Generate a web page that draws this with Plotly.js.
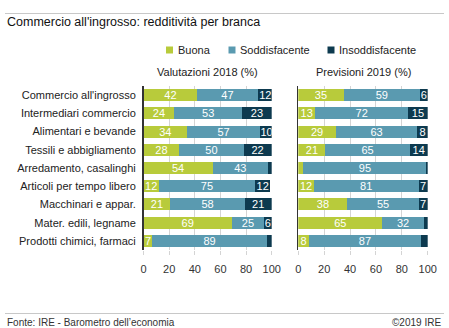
<!DOCTYPE html>
<html>
<head>
<meta charset="utf-8">
<script src="https://cdn.plot.ly/plotly-3.0.1.min.js"></script>
<style>html,body{margin:0;padding:0;background:#fff;}#chart{width:449px;height:328px;}</style>
</head>
<body>
<div id="chart"></div>
<script>
const categories = ["Commercio all'ingrosso","Intermediari commercio","Alimentari e bevande","Tessili e abbigliamento","Arredamento, casalinghi","Articoli per tempo libero","Macchinari e appar.","Mater. edili, legname","Prodotti chimici, farmaci"];
const seriesNames = ["Buona","Soddisfacente","Insoddisfacente"];
const buona2018 = [42,24,34,28,54,12,21,69,7];
const sodd2018 = [47,53,57,50,43,75,58,25,89];
const insodd2018 = [12,23,10,22,3,12,21,6,4];
const buona2019 = [35,13,29,21,4,12,38,65,8];
const sodd2019 = [59,72,63,65,95,81,55,32,87];
const insodd2019 = [6,15,8,14,1,7,7,3,5];
const xTicks = [0,20,40,60,80,100];
const panelTitles = ["Valutazioni 2018 (%)","Previsioni 2019 (%)"];
const chartTitle = "Commercio all'ingrosso: redditività per branca";
const sourceText = "Fonte: IRE - Barometro dell’economia";
const copyText = "©2019 IRE";

const colors = ["#b8cb3b","#5a9ab0","#0d3a4f"];
const W = 449, H = 328;
const px = x => x / W;
const py = y => 1 - y / H;
const FONT = "Liberation Sans, Arial, sans-serif";

function lbl(arr){ return arr.map(v => v >= 6 ? String(v) : ""); }

const data2018 = [buona2018, sodd2018, insodd2018];
const data2019 = [buona2019, sodd2019, insodd2019];
const traces = [];
[data2018, data2019].forEach((set, p) => {
  set.forEach((vals, i) => {
    traces.push({
      type: 'bar', orientation: 'h',
      x: vals, y: categories,
      name: seriesNames[i],
      xaxis: p === 0 ? 'x' : 'x2',
      yaxis: p === 0 ? 'y' : 'y2',
      marker: {color: colors[i], line: {width: 0}},
      text: lbl(vals),
      textposition: 'inside',
      insidetextanchor: 'middle',
      textangle: 0,
      constraintext: 'none',
      textfont: {color: '#ffffff', size: 11, family: FONT},
      hoverinfo: 'skip',
      showlegend: false
    });
  });
});

const xCommon = {
  range: [0, 100], tickvals: xTicks, ticktext: xTicks.map(String),
  showgrid: true, gridcolor: '#d4d4d4', gridwidth: 1,
  zeroline: false, showline: false,
  ticks: 'outside', ticklen: 4, tickcolor: '#d4d4d4',
  ticklabelstandoff: 5,
  tickfont: {size: 11, color: '#333', family: FONT},
  automargin: false, fixedrange: true
};
const yCommon = {
  type: 'category', categoryarray: categories, autorange: 'reversed',
  showgrid: false, zeroline: false,
  showline: true, linecolor: '#333', linewidth: 1.5,
  ticks: '', automargin: false, fixedrange: true,
  domain: [py(250), py(86)]
};

const annotations = [
  {text: chartTitle, x: px(5), y: py(22), xref: 'paper', yref: 'paper', xanchor: 'left', yanchor: 'middle', showarrow: false, font: {size: 12.5, color: '#111', family: FONT}},
  {text: panelTitles[0], x: px(207.6), y: py(72), xref: 'paper', yref: 'paper', xanchor: 'center', yanchor: 'middle', showarrow: false, font: {size: 11, color: '#222', family: FONT}},
  {text: panelTitles[1], x: px(363), y: py(72), xref: 'paper', yref: 'paper', xanchor: 'center', yanchor: 'middle', showarrow: false, font: {size: 11, color: '#222', family: FONT}},
  {text: sourceText, x: px(5), y: py(322), xref: 'paper', yref: 'paper', xanchor: 'left', yanchor: 'middle', showarrow: false, font: {size: 10, color: '#333', family: FONT}},
  {text: copyText, x: px(443), y: py(322), xref: 'paper', yref: 'paper', xanchor: 'right', yanchor: 'middle', showarrow: false, font: {size: 10, color: '#333', family: FONT}}
];
const shapes = [
  {type: 'line', xref: 'paper', yref: 'paper', x0: px(5), x1: px(444), y0: py(13.5), y1: py(13.5), line: {color: '#c8c8c8', width: 1}},
  {type: 'line', xref: 'paper', yref: 'paper', x0: px(5), x1: px(444), y0: py(313.5), y1: py(313.5), line: {color: '#c8c8c8', width: 1}}
];
const legendX = [169.5, 232, 331];
seriesNames.forEach((n, i) => {
  shapes.push({type: 'rect', xref: 'paper', yref: 'paper', xsizemode: 'pixel', ysizemode: 'pixel',
    xanchor: px(legendX[i]), yanchor: py(50), x0: -3.5, x1: 3.5, y0: -3.5, y1: 3.5,
    fillcolor: colors[i], line: {width: 0}});
  annotations.push({text: n, x: px(legendX[i] + 6), y: py(50), xref: 'paper', yref: 'paper', xanchor: 'left', yanchor: 'middle', showarrow: false, font: {size: 11, color: '#222', family: FONT}});
});

const layout = {
  width: W, height: H,
  margin: {l: 0, r: 0, t: 0, b: 0},
  paper_bgcolor: '#fff', plot_bgcolor: '#fff',
  barmode: 'stack', bargap: 0.34,
  showlegend: false,
  font: {family: FONT, color: '#333'},
  uniformtext: {minsize: 11, mode: 'show'},
  xaxis: Object.assign({}, xCommon, {domain: [px(143.5), px(271.7)], anchor: 'y'}),
  xaxis2: Object.assign({}, xCommon, {domain: [px(298.3), px(427.7)], anchor: 'y2'}),
  yaxis: Object.assign({}, yCommon, {anchor: 'x', showticklabels: true, ticklabelstandoff: 4,
    tickfont: {size: 11, color: '#222', family: FONT}}),
  yaxis2: Object.assign({}, yCommon, {anchor: 'x2', showticklabels: false}),
  annotations: annotations,
  shapes: shapes
};

Plotly.newPlot('chart', traces, layout, {displayModeBar: false, staticPlot: true});
</script>
</body>
</html>
